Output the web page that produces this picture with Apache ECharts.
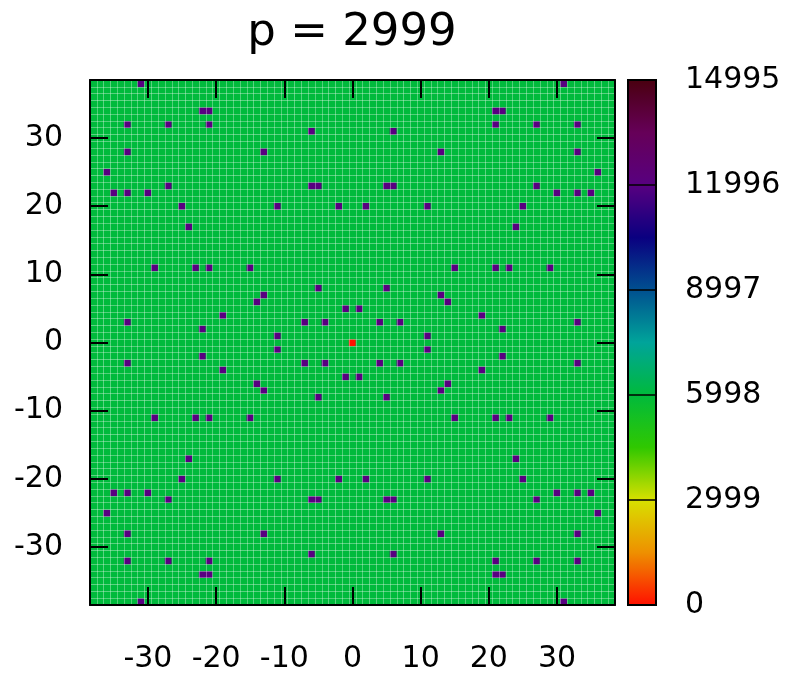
<!DOCTYPE html>
<html>
<head>
<meta charset="utf-8">
<script src="https://cdn.jsdelivr.net/npm/echarts@6/dist/echarts.min.js"></script>
<style>
  html, body { margin: 0; padding: 0; background: #fff; }
  #chart { width: 786px; height: 679px; }
</style>
</head>
<body>
<div id="chart"></div>
<script>
// ---- data ----
const titleText = 'p = 2999';
const coords = [-38,-37,-36,-35,-34,-33,-32,-31,-30,-29,-28,-27,-26,-25,-24,-23,-22,-21,-20,-19,
  -18,-17,-16,-15,-14,-13,-12,-11,-10,-9,-8,-7,-6,-5,-4,-3,-2,-1,0,1,2,3,4,5,6,7,8,9,10,
  11,12,13,14,15,16,17,18,19,20,21,22,23,24,25,26,27,28,29,30,31,32,33,34,35,36,37,38];
const axisTickValues = [-30, -20, -10, 0, 10, 20, 30];
const cbTicks = [0, 2999, 5998, 8997, 11996, 14995];
const cbMin = 0;
const cbMax = 14995;
const cbColors = ['#ff1000', '#ee9000', '#d8e000', '#30c800', '#00ba3c', '#00a49a',
                  '#005090', '#0a0080', '#580080', '#660058', '#4a0010'];

const backgroundValue = 5998;   // every ordinary cell
const peakValue = 11996;        // purple cells
const centerCell = [0, 0];
const centerValue = 0;          // red cell
const peakCells = [
  [-31,38],[31,38],
  [-22,34],[-21,34],[21,34],[22,34],
  [-33,32],[-27,32],[-21,32],[21,32],[27,32],[33,32],
  [-6,31],[6,31],
  [-33,28],[-13,28],[13,28],[33,28],
  [-36,25],[36,25],
  [-27,23],[-6,23],[-5,23],[5,23],[6,23],[27,23],
  [-35,22],[-33,22],[-30,22],[30,22],[33,22],[35,22],
  [-25,20],[-11,20],[-2,20],[2,20],[11,20],[25,20],
  [-24,17],[24,17],
  [-29,11],[-23,11],[-21,11],[-15,11],[15,11],[21,11],[23,11],[29,11],
  [-5,8],[5,8],
  [-13,7],[13,7],
  [-14,6],[14,6],
  [-1,5],[1,5],
  [-19,4],[19,4],
  [-33,3],[-7,3],[-4,3],[4,3],[7,3],[33,3],
  [-22,2],[22,2],
  [-11,1],[11,1],
  [-11,-1],[11,-1],
  [-22,-2],[22,-2],
  [-33,-3],[-7,-3],[-4,-3],[4,-3],[7,-3],[33,-3],
  [-19,-4],[19,-4],
  [-1,-5],[1,-5],
  [-14,-6],[14,-6],
  [-13,-7],[13,-7],
  [-5,-8],[5,-8],
  [-29,-11],[-23,-11],[-21,-11],[-15,-11],[15,-11],[21,-11],[23,-11],[29,-11],
  [-24,-17],[24,-17],
  [-25,-20],[-11,-20],[-2,-20],[2,-20],[11,-20],[25,-20],
  [-35,-22],[-33,-22],[-30,-22],[30,-22],[33,-22],[35,-22],
  [-27,-23],[-6,-23],[-5,-23],[5,-23],[6,-23],[27,-23],
  [-36,-25],[36,-25],
  [-33,-28],[-13,-28],[13,-28],[33,-28],
  [-6,-31],[6,-31],
  [-33,-32],[-27,-32],[-21,-32],[21,-32],[27,-32],[33,-32],
  [-22,-34],[-21,-34],[21,-34],[22,-34],
  [-31,-38],[31,-38]
];

// ---- build the heatmap table ----
const special = new Map();
peakCells.forEach(([x, y]) => special.set(x + ',' + y, peakValue));
special.set(centerCell[0] + ',' + centerCell[1], centerValue);
const heatData = [];
coords.forEach((xv, xi) => {
  coords.forEach((yv, yi) => {
    const k = xv + ',' + yv;
    heatData.push([xi, yi, special.has(k) ? special.get(k) : backgroundValue]);
  });
});

const FONT = 'DejaVu Sans';
const isTick = (i, v) => axisTickValues.indexOf(Number(v)) >= 0;
const tickStyle = { show: true, inside: true, length: 18, interval: isTick, alignWithLabel: true,
                    lineStyle: { color: '#000', width: 2 } };
const lineStyle = { show: true, onZero: false, lineStyle: { color: '#000', width: 2 } };
const cellLines = { show: true, interval: 0, lineStyle: { color: 'rgba(255,255,255,0.32)', width: 1 } };

const chart = echarts.init(document.getElementById('chart'), null, { renderer: 'canvas' });
chart.setOption({
  animation: false,
  backgroundColor: '#fff',
  title: {
    text: titleText, left: 352, top: 11, textAlign: 'center', padding: 0,
    textStyle: { fontFamily: FONT, fontSize: 45, fontWeight: 'normal', color: '#000' }
  },
  grid: [
    { left: 90, top: 80, width: 525, height: 525, show: false },
    { left: 628, top: 80, width: 28, height: 525, show: true, z: 10,
      backgroundColor: 'transparent', borderColor: '#000', borderWidth: 2 }
  ],
  xAxis: [
    { type: 'category', data: coords, gridIndex: 0, position: 'bottom', z: 10,
      axisLine: lineStyle, axisTick: tickStyle, splitLine: cellLines,
      axisLabel: { interval: isTick, margin: 39, fontFamily: FONT, fontSize: 30, color: '#000' } },
    { type: 'category', data: coords, gridIndex: 0, position: 'top', z: 11,
      axisLine: lineStyle, axisTick: tickStyle, splitLine: { show: false },
      axisLabel: { show: false } },
    { type: 'value', gridIndex: 1, min: 0, max: 1, show: false }
  ],
  yAxis: [
    { type: 'category', data: coords, gridIndex: 0, position: 'left', z: 10,
      axisLine: lineStyle, axisTick: tickStyle, splitLine: cellLines,
      axisLabel: { interval: isTick, margin: 27, fontFamily: FONT, fontSize: 30, color: '#000' } },
    { type: 'category', data: coords, gridIndex: 0, position: 'right', z: 11,
      axisLine: lineStyle, axisTick: tickStyle, splitLine: { show: false },
      axisLabel: { show: false } },
    { type: 'value', gridIndex: 1, position: 'right', min: cbMin, max: cbMax, interval: 2999, z: 10,
      axisLine: { show: false }, axisTick: { show: false },
      splitLine: { show: true, lineStyle: { color: '#000', width: 1.5 } },
      axisLabel: { margin: 29, fontFamily: FONT, fontSize: 30, color: '#000',
                   formatter: v => String(v) } }
  ],
  visualMap: {
    type: 'continuous', seriesIndex: 0, min: cbMin, max: cbMax, calculable: false,
    orient: 'vertical', left: 628, top: 80, itemWidth: 28, itemHeight: 525, padding: 0,
    text: null, inRange: { color: cbColors }, hoverLink: false
  },
  series: [{
    type: 'heatmap', xAxisIndex: 0, yAxisIndex: 0, data: heatData,
    progressive: 0, emphasis: { disabled: true },
    itemStyle: { borderWidth: 0 }
  }]
});
</script>
</body>
</html>
